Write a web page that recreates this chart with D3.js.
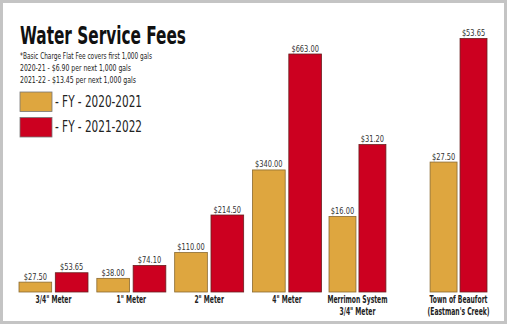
<!DOCTYPE html>
<html>
<head>
<meta charset="utf-8">
<script src="https://cdn.jsdelivr.net/npm/d3@7"></script>
<style>
  body { margin: 0; background: #fff; }
  svg { display: block; }
  text { font-family: "DejaVu Sans", sans-serif; font-stretch: condensed; }
</style>
</head>
<body>
<div id="chart"></div>
<script>
var width = 507, height = 324;

// data
var categories = ['3/4" Meter', '1" Meter', '2" Meter', '4" Meter', 'Merrimon System\n3/4" Meter', 'Town of Beaufort\n(Eastman\'s Creek)'];
var fy2021 = [27.50, 38.00, 110.00, 340.00, 16.00, 27.50];
var fy2122 = [53.65, 74.10, 214.50, 663.00, 31.20, 53.65];
// the last two groups are drawn on their own (larger) scale in the original
var panel = ['meter', 'meter', 'meter', 'meter', 'system', 'system'];
var seriesNames = ['- FY - 2020-2021', '- FY - 2021-2022'];
var notes = ['*Basic Charge Flat Fee covers first 1,000 gals',
             '2020-21 - $6.90 per next 1,000 gals',
             '2021-22 - $13.45 per next 1,000 gals'];
var colors = ['#dea63f', '#cc0020'];

var svg = d3.select('#chart').append('svg')
  .attr('width', width)
  .attr('height', height);

// frame
svg.append('rect')
  .attr('x', 1.5).attr('y', 1.5)
  .attr('width', width - 3).attr('height', height - 3)
  .attr('fill', '#fff')
  .attr('stroke', '#c4c4c4')
  .attr('stroke-width', 3);

var baseline = 292;

// scales
var meterCats = categories.filter(function(d, i) { return panel[i] == 'meter'; }),
    systemCats = categories.filter(function(d, i) { return panel[i] == 'system'; });

var x = {
  meter: d3.scaleBand().domain(meterCats).range([19, 321.5]).paddingInner(0.1135),
  system: d3.scaleBand().domain(systemCats).range([329, 487]).paddingInner(0.437)
};
var y = {
  meter: d3.scaleLinear().domain([0, 663]).range([baseline, 54]),
  system: d3.scaleLinear().domain([0, 53.65]).range([baseline, 38.5])
};
var xs = d3.scaleBand().domain([0, 1]).paddingInner(0.1);

var rows = categories.map(function(c, i) {
  return { cat: c, panel: panel[i], values: [fy2021[i], fy2122[i]] };
});

var groups = svg.selectAll('.group')
  .data(rows)
  .enter().append('g')
  .attr('class', 'group')
  .attr('transform', function(d) { return 'translate(' + x[d.panel](d.cat) + ',0)'; });

groups.each(function(d) {
  var g = d3.select(this),
      bw = x[d.panel].bandwidth();
  xs.range([0, bw]);
  var yy = y[d.panel];

  var bars = d.values.map(function(v, k) { return { v: v, k: k }; });

  g.selectAll('rect')
    .data(bars)
    .enter().append('rect')
    .attr('x', function(b) { return xs(b.k); })
    .attr('y', function(b) { return yy(b.v); })
    .attr('width', xs.bandwidth())
    .attr('height', function(b) { return baseline - yy(b.v); })
    .attr('fill', function(b) { return colors[b.k]; })
    .attr('stroke', function(b) { return b.k == 0 ? '#8a6a30' : '#6a2020'; })
    .attr('stroke-width', 0.8);

  // condensed look: scale the glyphs horizontally around the anchor point
  g.selectAll('.val')
    .data(bars)
    .enter().append('text')
    .attr('class', 'val')
    .attr('transform', function(b) {
      return 'translate(' + (xs(b.k) + xs.bandwidth() / 2) + ',' + (yy(b.v) - 2.5) + ') scale(0.78,1)';
    })
    .attr('text-anchor', 'middle')
    .attr('font-size', 9.5)
    .attr('fill', '#333')
    .text(function(b) { return '$' + d3.format('.2f')(b.v); });

  var lines = d.cat.split('\n');
  g.selectAll('.cat')
    .data(lines)
    .enter().append('text')
    .attr('class', 'cat')
    .attr('transform', function(l, i) {
      return 'translate(' + (bw / 2) + ',' + (302.5 + i * 12.5) + ') scale(0.64,1)';
    })
    .attr('text-anchor', 'middle')
    .attr('font-size', 10.5)
    .attr('font-weight', 'bold')
    .attr('fill', '#222')
    .text(function(l) { return l; });
});

// title + notes
svg.append('text')
  .attr('x', 20).attr('y', 43.5)
  .attr('font-size', 25)
  .attr('font-weight', 'bold')
  .attr('textLength', 166)
  .attr('lengthAdjust', 'spacingAndGlyphs')
  .attr('fill', '#111')
  .text('Water Service Fees');

var noteLen = [132, 111, 116];
svg.selectAll('.note')
  .data(notes)
  .enter().append('text')
  .attr('class', 'note')
  .attr('x', 20)
  .attr('y', function(d, i) { return [58.5, 71, 82.5][i]; })
  .attr('font-size', 9)
  .attr('textLength', function(d, i) { return noteLen[i]; })
  .attr('lengthAdjust', 'spacingAndGlyphs')
  .attr('fill', '#222')
  .text(function(d) { return d; });

// legend
var legend = svg.selectAll('.legend')
  .data(seriesNames)
  .enter().append('g')
  .attr('class', 'legend')
  .attr('transform', function(d, i) { return 'translate(20,' + (92 + i * 25.5) + ')'; });

legend.append('rect')
  .attr('width', 32).attr('height', 19.5)
  .attr('fill', function(d, i) { return colors[i]; })
  .attr('stroke', '#777')
  .attr('stroke-width', 0.8);

legend.append('text')
  .attr('x', 35).attr('y', 14.5)
  .attr('font-size', 16)
  .attr('textLength', 87)
  .attr('lengthAdjust', 'spacingAndGlyphs')
  .attr('fill', '#222')
  .text(function(d) { return d; });
</script>
</body>
</html>
